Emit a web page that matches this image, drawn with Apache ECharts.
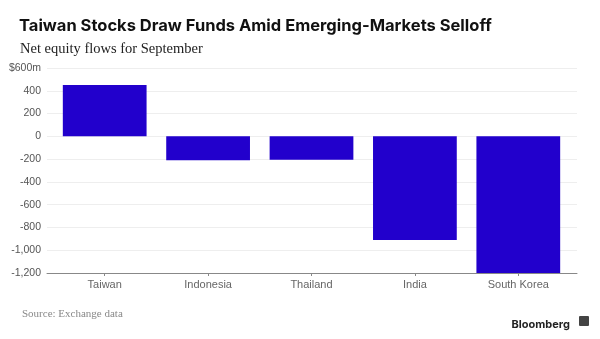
<!DOCTYPE html>
<html><head><meta charset="utf-8">
<script src="https://cdn.jsdelivr.net/npm/echarts@6/dist/echarts.min.js"></script>
<style>html,body{margin:0;padding:0;background:#fff}#c{width:600px;height:339px}</style>
</head><body><div id="c"></div>
<script>
const categories = ["Taiwan", "Indonesia", "Thailand", "India", "South Korea"];
const flows = [450, -210, -205, -910, -1200];
const yTicks = { min: -1200, max: 600, interval: 200 };

const chart = echarts.init(document.getElementById('c'));
const fmt = v => v === 600 ? '$600m' : (v < 0 ? '-' : '') + Math.abs(v).toLocaleString('en-US');
chart.setOption({
  animation: false,
  title: [
    { text: 'Taiwan Stocks Draw Funds Amid Emerging-Markets Selloff', left: 14, top: 13,
      textStyle: { fontFamily: 'Inter', fontWeight: 'bold', fontSize: 16.5, color: '#111' } },
    { text: 'Net equity flows for September', left: 15, top: 37,
      textStyle: { fontFamily: 'Liberation Serif', fontWeight: 'normal', fontSize: 14.5, color: '#222' } },
    { text: 'Source: Exchange data', left: 17, top: 304,
      textStyle: { fontFamily: 'Liberation Serif', fontWeight: 'normal', fontSize: 11, color: '#888' } },
    { text: 'Bloomberg', right: 25, top: 314,
      textStyle: { fontFamily: 'Inter', fontWeight: 'bold', fontSize: 11, color: '#222' } }
  ],
  graphic: [{ type: 'rect', right: 11, top: 316, shape: { width: 10, height: 10, r: 1 }, style: { fill: '#444' } }],
  grid: [
    { left: 47, right: 23, top: 68, bottom: 66 },
    { left: 53, right: 30, top: 68, bottom: 66 }
  ],
  xAxis: [
    { type: 'category', gridIndex: 0, data: categories,
      axisLine: { onZero: false, lineStyle: { color: '#888' } },
      axisTick: { show: false }, axisLabel: { show: false } },
    { type: 'category', gridIndex: 1, data: categories, axisLine: { show: false, onZero: false },
      axisTick: { show: true, alignWithLabel: true, length: 3, lineStyle: { color: '#888' } },
      axisLabel: { fontFamily: 'Liberation Sans', fontSize: 11, color: '#666', margin: 6 } }
  ],
  yAxis: [
    { type: 'value', gridIndex: 0, min: yTicks.min, max: yTicks.max, interval: yTicks.interval,
      axisLine: { show: false }, axisTick: { show: false },
      splitLine: { lineStyle: { color: '#eeeeee' } },
      axisLabel: { formatter: fmt, fontFamily: 'Liberation Sans', fontSize: 10.5, color: '#555', margin: 6 } },
    { type: 'value', gridIndex: 1, min: yTicks.min, max: yTicks.max, interval: yTicks.interval,
      show: false }
  ],
  series: [{
    type: 'bar', xAxisIndex: 1, yAxisIndex: 1, data: flows, barCategoryGap: '19%',
    itemStyle: { color: '#2200cc' }
  }]
});
</script></body></html>
